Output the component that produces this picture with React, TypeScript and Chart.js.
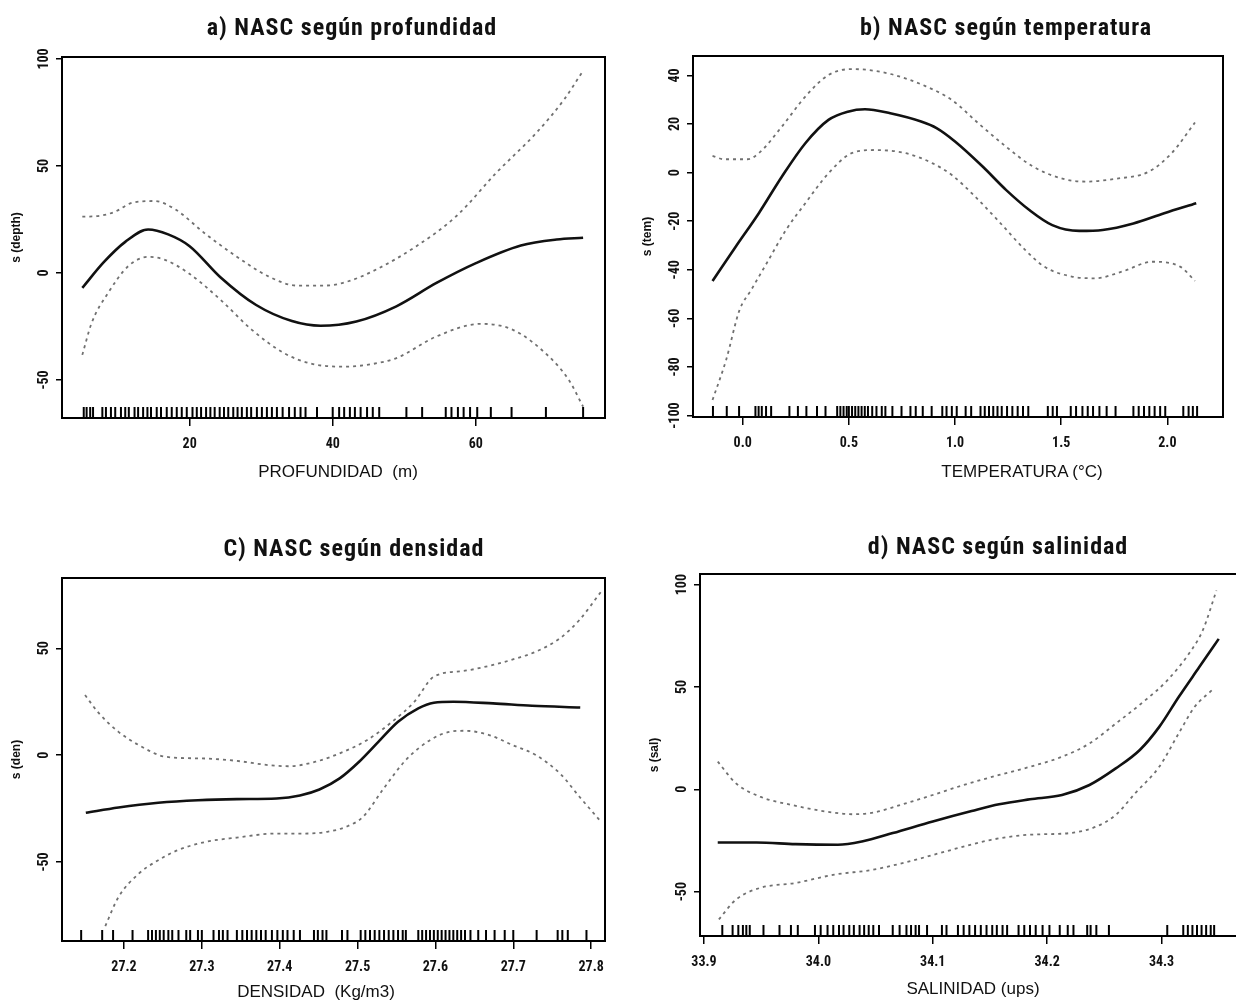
import React, { useEffect, useRef } from "react";
import { Chart, registerables } from "chart.js";

Chart.register(...registerables);

// ---------------- a) NASC según profundidad ----------------
const depthFitX = [5, 8, 11, 14.2, 17, 20, 24.3, 29.3, 34.3, 38.3, 43.3, 48.9, 54.5, 60.1, 66.3, 71.3, 75];
const depthFitY = [-7, 5, 14.5, 20.3, 18, 12.5, -2, -15, -22.5, -24.7, -22.7, -15.6, -4.7, 4.7, 12.8, 15.6, 16.4];
const depthUpX = [5, 7, 9.5, 12, 15, 18, 22, 26.5, 31, 35, 39, 42.2, 46.1, 51.7, 57.3, 62.9, 68.5, 72.4, 75];
const depthUpY = [26.3, 26.5, 28.5, 32.8, 33.6, 29.7, 18.8, 7.8, -1.6, -5.9, -5.9, -3.9, 1.6, 12.5, 26.6, 46.9, 65.6, 81.3, 94.5];
const depthLoX = [5, 6.3, 8.6, 11.4, 14.2, 16.4, 19.8, 24.3, 28.7, 33.2, 37.1, 41.6, 45.3, 48.9, 54.5, 60.7, 65.2, 70.2, 73, 75];
const depthLoY = [-38.3, -23.4, -9.4, 3.1, 7.5, 6.3, 0, -12.5, -26.6, -37.5, -42.5, -43.8, -42.7, -39.8, -29.7, -23.8, -26.6, -39, -50, -62.5];
const depthRug = [5.2, 5.6, 6.1, 6.5, 7.8, 8.3, 9.0, 9.6, 10.4, 11.0, 11.5, 12.3, 12.8, 13.5, 14.1, 14.6, 15.4, 16.0, 16.8, 17.5, 18.2, 18.9, 19.6, 20.4, 21.0, 21.6, 22.3, 22.9, 23.5, 24.2, 24.8, 25.4, 26.1, 26.7, 27.3, 28.0, 28.6, 29.4, 30.1, 30.8, 31.5, 32.2, 33.0, 33.9, 34.7, 35.5, 36.2, 37.8, 40.0, 40.9, 41.6, 42.4, 43.1, 43.9, 44.8, 45.6, 46.5, 50.3, 52.5, 55.8, 56.6, 57.5, 58.3, 59.2, 60.2, 62.1, 65.0, 69.8, 75.0];
const depthXTicks = [20, 40, 60];
const depthYTicks = [-50, 0, 50, 100];

// ---------------- b) NASC según temperatura ----------------
const tempFitX = [-0.142, -0.033, 0.076, 0.185, 0.295, 0.404, 0.495, 0.576, 0.695, 0.84, 0.913, 1.0, 1.13, 1.24, 1.35, 1.458, 1.585, 1.695, 1.84, 1.985, 2.136];
const tempFitY = [-44.6, -30.5, -16.7, -1.6, 12.1, 21.7, 25.1, 26.1, 24.4, 21, 18.3, 12.8, 2.5, -7.1, -15.4, -21.6, -24, -23.6, -20.9, -16.7, -12.6];
const tempUpX = [-0.142, -0.087, 0.022, 0.076, 0.185, 0.295, 0.404, 0.513, 0.585, 0.713, 0.858, 0.985, 1.11, 1.24, 1.367, 1.51, 1.62, 1.75, 1.913, 2.02, 2.13];
const tempUpY = [6.9, 5.5, 5.5, 8, 19, 31.3, 40.2, 42.6, 42.3, 40.2, 35.7, 29.9, 20.3, 10.7, 2.5, -2.6, -3.7, -2.6, 0.4, 8, 20.6];
const tempLoX = [-0.142, -0.078, -0.015, 0.04, 0.113, 0.204, 0.295, 0.404, 0.513, 0.622, 0.767, 0.895, 0.985, 1.095, 1.2, 1.33, 1.42, 1.55, 1.66, 1.785, 1.93, 2.06, 2.13];
const tempLoY = [-93.6, -77.1, -56.6, -48.3, -37.3, -23.6, -12.6, -0.3, 8, 9.3, 8, 3.8, -1, -9.9, -19.5, -31.8, -38.7, -42.8, -43.5, -40.8, -36.7, -38.7, -44.6];
const tempRug = [-0.14, -0.075, -0.017, 0.06, 0.075, 0.09, 0.11, 0.134, 0.22, 0.26, 0.3, 0.35, 0.39, 0.445, 0.46, 0.475, 0.49, 0.5, 0.515, 0.53, 0.545, 0.56, 0.575, 0.59, 0.61, 0.63, 0.655, 0.672, 0.705, 0.748, 0.79, 0.815, 0.848, 0.89, 0.94, 0.96, 0.985, 1.008, 1.05, 1.076, 1.12, 1.14, 1.16, 1.18, 1.2, 1.22, 1.245, 1.27, 1.295, 1.32, 1.345, 1.437, 1.46, 1.48, 1.545, 1.57, 1.6, 1.625, 1.65, 1.68, 1.714, 1.756, 1.84, 1.865, 1.89, 1.915, 1.94, 1.966, 1.99, 2.075, 2.1, 2.12, 2.14];
const tempXTicks = [0, 0.5, 1.0, 1.5, 2.0];
const tempYTicks = [-100, -80, -60, -40, -20, 0, 20, 40];

// ---------------- c) NASC según densidad ----------------
const densFitX = [27.151, 27.193, 27.244, 27.295, 27.345, 27.396, 27.426, 27.451, 27.477, 27.502, 27.527, 27.552, 27.578, 27.598, 27.623, 27.674, 27.724, 27.786];
const densFitY = [-27, -24.5, -22.3, -21.1, -20.6, -20.3, -18.9, -16.1, -10.9, -3.1, 6.3, 15.6, 21.9, 24.5, 25, 24.2, 23.1, 22.3];
const densUpX = [27.15, 27.168, 27.193, 27.219, 27.254, 27.305, 27.345, 27.386, 27.411, 27.446, 27.482, 27.512, 27.547, 27.573, 27.598, 27.638, 27.674, 27.704, 27.729, 27.76, 27.785, 27.813];
const densUpY = [28.1, 19.5, 10.9, 4.7, -0.8, -1.6, -2.7, -4.7, -5.2, -3.1, 1.6, 7, 16.4, 25, 36.7, 39.5, 42.2, 45.3, 48.4, 54.7, 63.3, 76.6];
const densLoX = [27.176, 27.193, 27.219, 27.244, 27.269, 27.305, 27.345, 27.396, 27.431, 27.461, 27.487, 27.507, 27.532, 27.562, 27.593, 27.618, 27.638, 27.669, 27.699, 27.729, 27.76, 27.785, 27.813];
const densLoY = [-80, -66.4, -55.5, -49.2, -44.5, -40.6, -38.6, -36.7, -36.7, -35.9, -33.3, -28.9, -16.4, -2.3, 7, 10.9, 11.4, 9.4, 4.7, 0, -8.6, -19.5, -31.3];
const densRug = [27.145, 27.172, 27.186, 27.211, 27.231, 27.236, 27.241, 27.246, 27.251, 27.257, 27.262, 27.27, 27.28, 27.285, 27.295, 27.3, 27.315, 27.322, 27.327, 27.333, 27.345, 27.352, 27.358, 27.364, 27.37, 27.376, 27.382, 27.39, 27.397, 27.404, 27.41, 27.418, 27.426, 27.444, 27.449, 27.455, 27.46, 27.48, 27.487, 27.504, 27.51, 27.516, 27.522, 27.528, 27.534, 27.54, 27.546, 27.552, 27.558, 27.562, 27.578, 27.583, 27.588, 27.593, 27.598, 27.603, 27.608, 27.613, 27.618, 27.623, 27.628, 27.633, 27.638, 27.645, 27.655, 27.665, 27.676, 27.689, 27.7, 27.73, 27.757, 27.763, 27.77, 27.794];
const densXTicks = [27.2, 27.3, 27.4, 27.5, 27.6, 27.7, 27.8];
const densYTicks = [-50, 0, 50];

// ---------------- d) NASC según salinidad ----------------
const salFitX = [33.912, 33.946, 33.98, 34.017, 34.038, 34.065, 34.1, 34.134, 34.158, 34.185, 34.213, 34.237, 34.26, 34.281, 34.298, 34.315, 34.333, 34.35];
const salFitY = [-26, -26, -26.8, -27.1, -25.5, -21.4, -15.7, -10.6, -7.3, -4.9, -2.8, 2.1, 10.2, 19.2, 30.5, 45.1, 59.7, 73.5];
const salUpX = [33.912, 33.928, 33.949, 33.976, 34.007, 34.031, 34.048, 34.072, 34.1, 34.127, 34.158, 34.185, 34.213, 34.237, 34.26, 34.284, 34.305, 34.326, 34.336, 34.348];
const salUpY = [13.5, 2.9, -3.6, -7.6, -10.9, -12.2, -11.4, -7.6, -2.8, 2.1, 7, 11, 15.9, 22.4, 32.1, 42.7, 53.2, 67.9, 77.6, 97.1];
const salLoX = [33.913, 33.928, 33.949, 33.98, 34.014, 34.048, 34.083, 34.117, 34.151, 34.185, 34.22, 34.243, 34.26, 34.277, 34.298, 34.315, 34.329, 34.344];
const salLoY = [-63.6, -53.9, -48.2, -45.8, -41.7, -39.3, -34.7, -29.5, -24.7, -22.2, -21.4, -18.2, -12.5, -1.9, 11, 27.3, 40.3, 48.4];
const salRug = [33.916, 33.925, 33.93, 33.934, 33.937, 33.94, 33.952, 33.966, 33.976, 33.982, 33.997, 34.002, 34.008, 34.013, 34.018, 34.022, 34.027, 34.031, 34.036, 34.04, 34.044, 34.048, 34.053, 34.065, 34.071, 34.077, 34.081, 34.085, 34.088, 34.095, 34.108, 34.112, 34.122, 34.127, 34.132, 34.137, 34.142, 34.147, 34.152, 34.156, 34.161, 34.165, 34.175, 34.18, 34.185, 34.19, 34.196, 34.202, 34.211, 34.218, 34.223, 34.235, 34.238, 34.243, 34.254, 34.305, 34.319, 34.323, 34.327, 34.331, 34.335, 34.339, 34.343, 34.346];
const salXTicks = [33.9, 34.0, 34.1, 34.2, 34.3];
const salYTicks = [-50, 0, 50, 100];

// ---------------- layout / style ----------------
const NARROW = '"Liberation Sans Narrow", "Arial Narrow", "Roboto Condensed", "Liberation Sans", Arial, sans-serif';
const SANS = '"Liberation Sans", Arial, Helvetica, sans-serif';

interface Panel {
  id: string;
  title: string;
  titleX: number;
  titleY: number;
  xTitle: string;
  xTitleX: number;
  xTitleY: number;
  yTitle: string;
  canvas: { left: number; top: number; width: number; height: number };
  area: { left: number; right: number; top: number; bottom: number };
  xMin: number; xMax: number; yMin: number; yMax: number;
  xTicks: number[]; xDecimals: number;
  yTicks: number[];
  fitX: number[]; fitY: number[];
  upX: number[]; upY: number[];
  loX: number[]; loY: number[];
  rug: number[];
}

const panels: Panel[] = [
  {
    id: "a", title: "a) NASC según profundidad", titleX: 352, titleY: 27,
    xTitle: "PROFUNDIDAD  (m)", xTitleX: 338, xTitleY: 472, yTitle: "s (depth)",
    canvas: { left: 0, top: 40, width: 618, height: 460 },
    area: { left: 62, right: 607, top: 57, bottom: 418 },
    xMin: 2.16, xMax: 78.06, yMin: -67.8, yMax: 100.9,
    xTicks: depthXTicks, xDecimals: 0, yTicks: depthYTicks,
    fitX: depthFitX, fitY: depthFitY, upX: depthUpX, upY: depthUpY, loX: depthLoX, loY: depthLoY, rug: depthRug,
  },
  {
    id: "b", title: "b) NASC según temperatura", titleX: 1006, titleY: 27,
    xTitle: "TEMPERATURA (°C)", xTitleX: 1022, xTitleY: 472, yTitle: "s (tem)",
    canvas: { left: 618, top: 40, width: 618, height: 460 },
    area: { left: 693, right: 1233, top: 56, bottom: 417 },
    xMin: -0.234, xMax: 2.262, yMin: -100.6, yMax: 48,
    xTicks: tempXTicks, xDecimals: 1, yTicks: tempYTicks,
    fitX: tempFitX, fitY: tempFitY, upX: tempUpX, upY: tempUpY, loX: tempLoX, loY: tempLoY, rug: tempRug,
  },
  {
    id: "c", title: "C) NASC según densidad", titleX: 354, titleY: 548,
    xTitle: "DENSIDAD  (Kg/m3)", xTitleX: 316, xTitleY: 992, yTitle: "s (den)",
    canvas: { left: 0, top: 560, width: 618, height: 444 },
    area: { left: 62, right: 609, top: 578, bottom: 941 },
    xMin: 27.1204, xMax: 27.8178, yMin: -87, yMax: 82.9,
    xTicks: densXTicks, xDecimals: 1, yTicks: densYTicks,
    fitX: densFitX, fitY: densFitY, upX: densUpX, upY: densUpY, loX: densLoX, loY: densLoY, rug: densRug,
  },
  {
    id: "d", title: "d) NASC según salinidad", titleX: 998, titleY: 546,
    xTitle: "SALINIDAD (ups)", xTitleX: 973, xTitleY: 989, yTitle: "s (sal)",
    canvas: { left: 618, top: 560, width: 640, height: 444 },
    area: { left: 700, right: 1240, top: 574, bottom: 936 },
    xMin: 33.8965, xMax: 34.3686, yMin: -71.7, yMax: 105.2,
    xTicks: salXTicks, xDecimals: 1, yTicks: salYTicks,
    fitX: salFitX, fitY: salFitY, upX: salUpX, upY: salUpY, loX: salLoX, loY: salLoY, rug: salRug,
  },
];

function pts(xs: number[], ys: number[]) {
  return xs.map((x, i) => ({ x, y: ys[i] }));
}

const rPlotPlugin = {
  id: "rPlot",
  afterDraw(chart: any, _args: any, opts: any) {
    const { ctx, chartArea: a, scales } = chart;
    ctx.save();
    ctx.strokeStyle = "#000";
    ctx.lineWidth = 2;
    ctx.strokeRect(a.left, a.top, a.right - a.left, a.bottom - a.top);
    const ys = scales.y;
    ctx.fillStyle = "#111";
    ctx.font = `bold 14px ${NARROW}`;
    ctx.textAlign = "center";
    ctx.textBaseline = "alphabetic";
    for (const t of ys.ticks) {
      const py = ys.getPixelForValue(t.value);
      ctx.save();
      ctx.translate(a.left - 14, py);
      ctx.rotate(-Math.PI / 2);
      ctx.fillText(String(t.value), 0, 0);
      ctx.restore();
    }
    ctx.font = `bold 12px ${SANS}`;
    ctx.textBaseline = "middle";
    ctx.save();
    ctx.translate(a.left - 45, (a.top + a.bottom) / 2);
    ctx.rotate(-Math.PI / 2);
    ctx.fillText(opts.yTitle, 0, 0);
    ctx.restore();
    ctx.restore();
  },
};

function PanelChart({ p }: { p: Panel }) {
  const ref = useRef<HTMLCanvasElement | null>(null);
  useEffect(() => {
    const canvas = ref.current;
    if (!canvas) return;
    const c = p.canvas;
    const a = p.area;
    const ciStyle = {
      showLine: true,
      borderColor: "#707070",
      borderWidth: 1.8,
      borderDash: [3, 4],
      pointRadius: 0,
      cubicInterpolationMode: "monotone" as const,
    };
    const chart = new Chart(canvas, {
      type: "scatter",
      data: {
        datasets: [
          { ...ciStyle, data: pts(p.upX, p.upY) },
          { ...ciStyle, data: pts(p.loX, p.loY) },
          {
            data: pts(p.fitX, p.fitY),
            showLine: true,
            borderColor: "#111",
            borderWidth: 2.6,
            pointRadius: 0,
            cubicInterpolationMode: "monotone" as const,
          },
          {
            data: p.rug.map((x) => ({ x, y: p.yMin })),
            showLine: false,
            pointStyle: "line",
            pointRadius: 11,
            pointRotation: 90,
            pointBorderColor: "#000",
            pointBackgroundColor: "#000",
            pointBorderWidth: 2,
            clip: 0,
          } as any,
        ],
      },
      options: {
        animation: false,
        responsive: false,
        devicePixelRatio: 1,
        events: [],
        layout: {
          padding: { top: a.top - c.top, right: c.left + c.width - a.right, left: 0, bottom: 0 },
        },
        plugins: {
          legend: { display: false },
          tooltip: { enabled: false },
          title: { display: false },
          rPlot: { yTitle: p.yTitle },
        } as any,
        scales: {
          x: {
            type: "linear",
            min: p.xMin,
            max: p.xMax,
            afterBuildTicks: (s: any) => {
              s.ticks = p.xTicks.map((v) => ({ value: v }));
            },
            afterFit: (s: any) => {
              s.height = c.top + c.height - a.bottom;
            },
            ticks: {
              autoSkip: false,
              maxRotation: 0,
              minRotation: 0,
              padding: 10,
              color: "#111",
              font: { family: NARROW, size: 14, weight: "bold" },
              callback: (v: any) => Number(v).toFixed(p.xDecimals),
            },
            grid: { drawOnChartArea: false, drawTicks: true, tickLength: 8, color: "#000", lineWidth: 1.5 },
            border: { display: true, color: "#000", width: 2 },
          },
          y: {
            type: "linear",
            min: p.yMin,
            max: p.yMax,
            afterBuildTicks: (s: any) => {
              s.ticks = p.yTicks.map((v) => ({ value: v }));
            },
            afterFit: (s: any) => {
              s.width = a.left - c.left;
            },
            ticks: { display: false },
            grid: { drawOnChartArea: false, drawTicks: true, tickLength: 6, color: "#000", lineWidth: 1.5 },
            border: { display: true, color: "#000", width: 2 },
          },
        },
      } as any,
      plugins: [rPlotPlugin],
    });
    return () => chart.destroy();
  }, [p]);
  const c = p.canvas;
  return (
    <canvas
      ref={ref}
      width={c.width}
      height={c.height}
      style={{ position: "absolute", left: c.left, top: c.top, width: c.width, height: c.height, display: "block" }}
    />
  );
}

function Label({ text, cx, cy, font }: { text: string; cx: number; cy: number; font: React.CSSProperties }) {
  return (
    <div
      style={{
        position: "absolute",
        left: cx - 250,
        top: cy - 15,
        width: 500,
        height: 30,
        lineHeight: "30px",
        textAlign: "center",
        whiteSpace: "pre",
        color: "#111",
        ...font,
      }}
    >
      {text}
    </div>
  );
}

export default function App() {
  return (
    <div
      style={{
        position: "absolute",
        left: 0,
        top: 0,
        width: 1236,
        height: 1004,
        overflow: "hidden",
        background: "#fff",
      }}
    >
      {panels.map((p) => (
        <PanelChart key={p.id} p={p} />
      ))}
      {panels.map((p) => (
        <Label
          key={"t" + p.id}
          text={p.title}
          cx={p.titleX}
          cy={p.titleY}
          font={{ fontFamily: NARROW, fontWeight: "bold", fontSize: 24, letterSpacing: "1px" }}
        />
      ))}
      {panels.map((p) => (
        <Label
          key={"x" + p.id}
          text={p.xTitle}
          cx={p.xTitleX}
          cy={p.xTitleY}
          font={{ fontFamily: SANS, fontSize: 17 }}
        />
      ))}
    </div>
  );
}
